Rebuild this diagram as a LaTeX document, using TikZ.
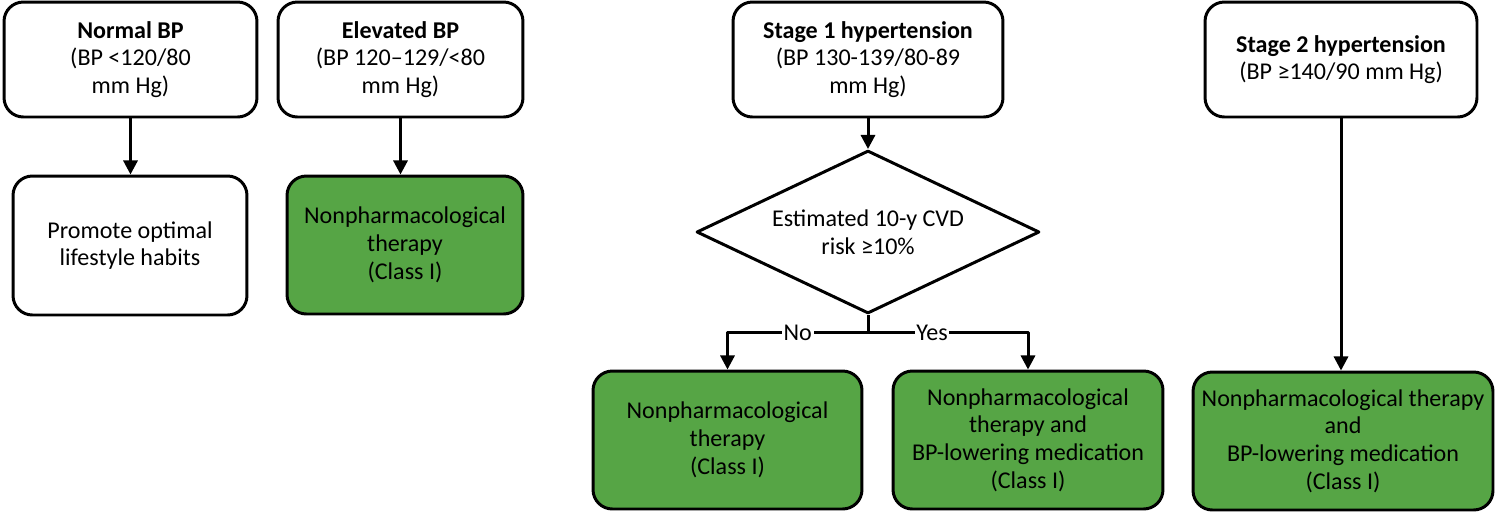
\documentclass[tikz,border=0pt]{standalone}
\usepackage{fontspec}
\setmainfont{Carlito}
\usetikzlibrary{shapes.geometric,arrows.meta}
\definecolor{txgreen}{RGB}{86,165,69}
\tikzset{
  stagebox/.style={draw, line width=1.7pt, rounded corners=11pt, align=center, inner sep=2pt},
  treatbox/.style={stagebox, fill=txgreen},
  riskdiam/.style={draw, diamond, shape aspect=2.1, line width=1.7pt, align=center, inner sep=0pt},
  branchlbl/.style={fill=white, inner sep=1pt}
}
\begin{document}
\begin{tikzpicture}[x=0.02cm, y=-0.02cm, line join=round, >={Stealth[inset=0pt,length=8pt,width=8pt]},
  font=\fontsize{13.7}{15.8}\selectfont]
\useasboundingbox (0,0) rectangle (1500,512);
% categories
\node[stagebox, minimum width=5.06cm, minimum height=2.30cm] (nbp) at (130.5,59.5)
  {\textbf{Normal BP}\\(BP <120/80\\mm Hg)};
\node[stagebox, minimum width=4.90cm, minimum height=2.30cm] (ebp) at (400.5,59.5)
  {\textbf{Elevated BP}\\(BP 120–129/<80\\mm Hg)};
\node[stagebox, minimum width=5.40cm, minimum height=2.30cm] (sone) at (868,59.5)
  {\textbf{Stage 1 hypertension}\\(BP 130-139/80-89\\mm Hg)};
\node[stagebox, minimum width=5.44cm, minimum height=2.30cm] (stwo) at (1341,59.5)
  {\textbf{Stage 2 hypertension}\\(BP ≥140/90 mm Hg)};
% recommendations
\node[stagebox, minimum width=4.68cm, minimum height=2.78cm] (life) at (130,245.5)
  {Promote optimal\\lifestyle habits};
\node[treatbox, minimum width=4.72cm, minimum height=2.76cm] (etx) at (405,245)
  {Nonpharmacological\\therapy\\(Class I)};
\node[riskdiam, minimum width=6.86cm, minimum height=3.26cm] (risk) at (868,232)
  {Estimated 10-y CVD\\risk ≥10\%};
\node[treatbox, minimum width=5.38cm, minimum height=2.76cm] (notx) at (727.5,440)
  {Nonpharmacological\\therapy\\(Class I)};
\node[treatbox, minimum width=5.40cm, minimum height=2.76cm] (yestx) at (1028,440)
  {Nonpharmacological\\therapy and\\BP-lowering medication\\(Class I)};
\node[treatbox, minimum width=6.00cm, minimum height=2.76cm] (stwotx) at (1343,441)
  {Nonpharmacological therapy\\and\\BP-lowering medication\\(Class I)};
% arrows
\draw[->, line width=1.7pt] (nbp) -- (nbp |- life.north);
\draw[->, line width=1.7pt] (ebp) -- (ebp |- etx.north);
\draw[->, line width=1.7pt] (sone) -- (risk);
\draw[->, line width=1.7pt] (stwo) -- (stwo |- stwotx.north);
\draw[line width=1.7pt] (risk.south) -- ++(0,18) coordinate (split);
\draw[->, line width=1.7pt] (split) -| node[branchlbl, pos=0.25] {No} (notx.north);
\draw[->, line width=1.7pt] (split) -| node[branchlbl, pos=0.2] {Yes} (yestx.north);
\end{tikzpicture}
\end{document}
